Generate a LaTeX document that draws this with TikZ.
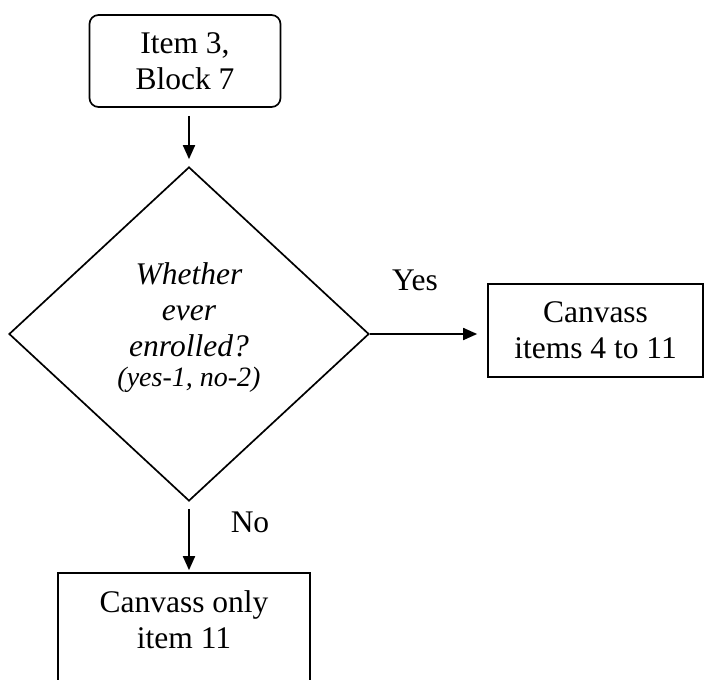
\documentclass[tikz,border=0pt]{standalone}
\usepackage{fontspec}
\setmainfont{Liberation Serif}
\usetikzlibrary{shapes.geometric,arrows.meta}
\begin{document}
\begin{tikzpicture}[x=1pt,y=-1pt,
  every node/.style={font=\fontsize{31.5}{36}\selectfont, align=center, inner sep=0pt},
  box/.style={draw, line width=1.7pt},
  arr/.style={-{Triangle[length=14pt,width=12pt]}, line width=1.8pt},
  lab/.style={font=\fontsize{31.5}{36}\selectfont}]
\useasboundingbox[fill=white] (0,0) rectangle (705,680);
\node[box, rounded corners=9pt, minimum width=191pt, minimum height=92pt] (start) at (185,61) {Item 3,\\Block 7};
\node[box, shape=diamond, minimum width=360pt, minimum height=334pt] (dec) at (189,334) {};
\node[font=\fontsize{31.5}{36}\selectfont\itshape] (dectext) at (189,328) {Whether\\ever\\enrolled?\\[-6pt]{\fontsize{28}{30}\selectfont (yes-1, no-2)}};
\node[box, minimum width=215pt, minimum height=93pt] (yesbox) at (595.5,330.5) {Canvass\\items 4 to 11};
\node[box, minimum width=252pt, minimum height=127pt] (nobox) at (184,636.5) {};
\node (notext) at (184,620) {Canvass only\\item 11};
\node[lab] (yes) at (415,280) {Yes};
\node[lab] (no) at (250,522) {No};
\draw[arr, shorten <=8pt, shorten >=7pt] (dec.north |- start.south) -- (dec.north);
\draw[arr, shorten >=10pt] (dec.east) -- (dec.east -| yesbox.west);
\draw[arr, shorten <=7pt, shorten >=2pt] (dec.south) -- (dec.south |- nobox.north);
\end{tikzpicture}
\end{document}
